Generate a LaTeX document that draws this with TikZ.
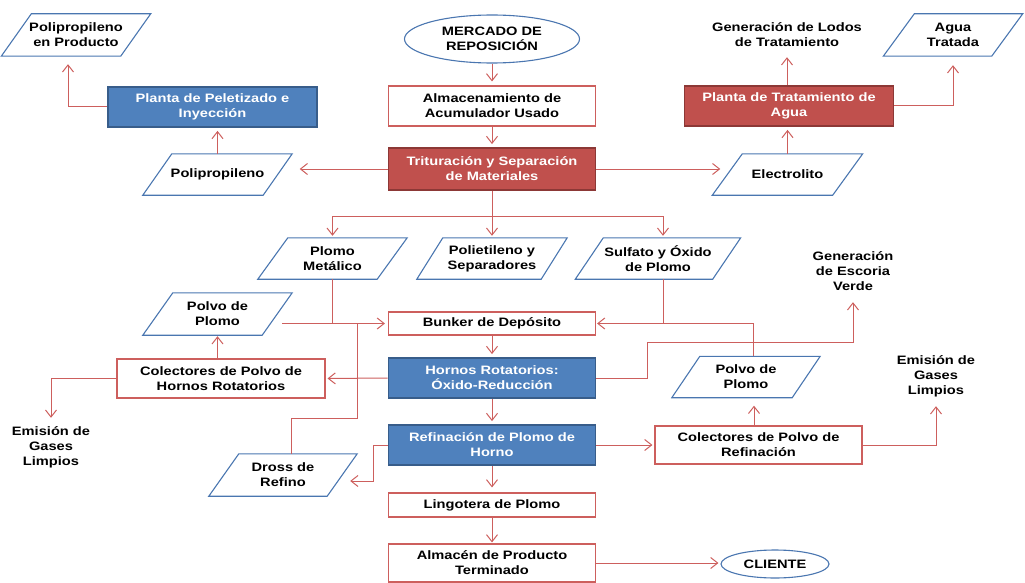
\documentclass[tikz,border=0pt]{standalone}
\usepackage{fontspec}
\newfontfamily\labfam{Liberation Sans}[FakeStretch=1.2]
\usetikzlibrary{arrows.meta,shapes.geometric}
\definecolor{linkred}{RGB}{205,95,93}
\definecolor{boxred}{RGB}{192,80,77}
\definecolor{boxredD}{RGB}{140,56,54}
\definecolor{boxblue}{RGB}{79,129,189}
\definecolor{boxblueD}{RGB}{56,93,138}
\definecolor{dataline}{RGB}{74,118,176}
\newcommand\labfont{\labfam\bfseries\fontsize{12.2}{15}\selectfont}
% data (input/output) symbol: slanted outline around a named node
\newcommand\slantbox[2]{%
  \draw[dataline,line width=1.1pt,line join=miter]
    ([xshift=#2/2]#1.north west) -- ([xshift=#2/2]#1.north east)
    -- ([xshift=-#2/2]#1.south east) -- ([xshift=-#2/2]#1.south west) -- cycle;}
\begin{document}
\begin{tikzpicture}[x=1pt,y=-1pt,
  every node/.style={font=\labfont,align=center,inner sep=0pt},
  procbox/.style={rectangle,draw=linkred,fill=white,line width=1.1pt,minimum width=207,minimum height=40},
  bluebox/.style={procbox,draw=boxblueD,fill=boxblue,text=white,line width=1.8pt},
  redbox/.style={procbox,draw=boxredD,fill=boxred,text=white,line width=1.8pt},
  databox/.style={rectangle,minimum height=41,minimum width=#1},
  terminal/.style={ellipse,draw=dataline,fill=white,line width=1.1pt},
  outtext/.style={minimum height=#1},
  flow/.style={draw=linkred,line width=1pt,-{Straight Barb[length=7pt,width=11pt]}},
  link/.style={draw=linkred,line width=1pt}]
\useasboundingbox (0,0) rectangle (1025,583);

% ---- top section
\node[terminal,minimum width=175,minimum height=48] (merc) at (492,39) {MERCADO DE\\REPOSICIÓN};
\node[procbox] (alm) at (492,106) {Almacenamiento de\\Acumulador Usado};
\node[redbox,minimum height=42] (trit) at (492,169) {Trituración y Separación\\de Materiales};
\node[databox=120] (poli) at (217.5,174.5) {Polipropileno};
\node[databox=120] (elec) at (787.5,174.5) {Electrolito};
\node[bluebox,minimum width=209] (pelet) at (212.5,107) {Planta de Peletizado e\\Inyección};
\node[redbox,minimum width=209] (trat) at (789,106) {Planta de Tratamiento de\\Agua};
\node[databox=119,minimum height=42] (pprod) at (76,35) {Polipropileno\\en Producto};
\node[outtext=44] (lodos) at (787,35) {Generación de Lodos\\de Tratamiento};
\node[databox=108,minimum height=42] (agua) at (953,35) {Agua\\Tratada};

% ---- separated materials
\node[databox=119] (pmet) at (332.5,258.5) {Plomo\\Metálico};
\node[databox=124] (polie) at (492,258.5) {Polietileno y\\Separadores};
\node[databox=137] (sulf) at (658,258.5) {Sulfato y Óxido\\de Plomo};

% ---- smelting and refining
\node[procbox,minimum height=23] (bunk) at (492,323.5) {Bunker de Depósito};
\node[databox=119,minimum height=42] (polvoL) at (217.5,314) {Polvo de\\Plomo};
\node[bluebox] (hornos) at (492,378) {Hornos Rotatorios:\\Óxido-Reducción};
\node[procbox,minimum width=208,minimum height=39] (colH) at (221,378.5) {Colectores de Polvo de\\Hornos Rotatorios};
\node[outtext=58] (emisL) at (51,447) {Emisión de\\Gases\\Limpios};
\node[databox=120] (polvoR) at (746,377) {Polvo de\\Plomo};
\node[outtext=62] (escoria) at (853,271) {Generación\\de Escoria\\Verde};
\node[outtext=60] (emisR) at (936,376) {Emisión de\\Gases\\Limpios};
\node[bluebox] (refin) at (492,445) {Refinación de Plomo de\\Horno};
\node[databox=118,minimum height=42] (dross) at (283,475) {Dross de\\Refino};
\node[procbox,minimum height=38] (colR) at (758.5,445) {Colectores de Polvo de\\Refinación};
\node[procbox,minimum height=24] (ling) at (492,505) {Lingotera de Plomo};
\node[procbox,minimum height=38] (almP) at (492,563) {Almacén de Producto\\Terminado};
\node[terminal,minimum width=108,minimum height=28] (cli) at (775,564) {CLIENTE};

\slantbox{pprod}{30}
\slantbox{poli}{29}
\slantbox{elec}{30}
\slantbox{agua}{31}
\slantbox{pmet}{30}
\slantbox{polie}{26}
\slantbox{sulf}{28}
\slantbox{polvoL}{30}
\slantbox{polvoR}{28}
\slantbox{dross}{30}

% ---- connectors, top
\draw[flow,shorten >=4] (merc.south) -- (alm.north);
\draw[flow,shorten >=3] (alm.south) -- (trit.north);
\draw[flow,shorten >=22] (trit.west) -- (trit.west -| poli.east);
\draw[flow,shorten >=7] (trit.east) -- (trit.east -| elec.west);
\draw[flow,shorten >=3] (poli.north) -- (poli.north |- pelet.south);
\draw[flow,shorten >=8] (pelet.west) -| ([xshift=-8]pprod.south);
\draw[flow,shorten >=3] (elec.north) -- (elec.north |- trat.south);
\draw[flow] (trat.north -| lodos.south) -- (lodos.south);
\draw[flow,shorten >=9] (trat.east) -| (agua.south);

% ---- crusher outputs
\coordinate (split) at (492,216);
\draw[link] (trit.south) -- (split);
\draw[flow,shorten >=2] (split) -| (pmet.north);
\draw[flow,shorten >=2] (split) -- (polie.north);
\draw[flow,shorten >=2] (split) -| ([xshift=5]sulf.north);

% ---- bunker feeds
\draw[flow,shorten >=3] ([xshift=5]polvoL.east |- bunk.west) -- (bunk.west);
\draw[link] (pmet.south) -- (pmet.south |- bunk.west);
\coordinate (drossbend) at (357,418);
\draw[link] ([xshift=8]dross.north) |- (drossbend) -- (drossbend |- bunk.west);
\draw[link] ([xshift=5]sulf.south) -- ([xshift=5]sulf.south |- bunk.east);
\draw[flow,shorten >=1] ([xshift=7]polvoR.north) |- (bunk.east);

% ---- furnaces
\draw[flow,shorten >=3] (bunk.south) -- (hornos.north);
\coordinate (slagbend) at (647,342);
\draw[flow] (hornos.east) -| (slagbend) -| (escoria.south);
\draw[flow,shorten >=2] (hornos.west) -- (colH.east);
\draw[flow,shorten >=1] (polvoL.south |- colH.north) -- (polvoL.south);
\draw[flow] (colH.west) -| (emisL.north);

% ---- refining and product
\draw[flow,shorten >=3] (hornos.south) -- (refin.north);
\coordinate (refbend) at (373,481);
\draw[flow,shorten >=8] (refin.west) -| (refbend) -- (refbend -| dross.east);
\draw[flow,shorten >=2] (refin.east) -- (colR.west);
\draw[flow,shorten >=8] ([xshift=-4.5]colR.north) -- ([xshift=-4.5]colR.north |- polvoR.south);
\draw[flow] (colR.east) -| (emisR.south);
\draw[flow,shorten >=5] (refin.south) -- (ling.north);
\draw[flow,shorten >=1] (ling.south) -- (almP.north);
\draw[flow,shorten >=2] (almP.east) -- (almP.east -| cli.west);
\end{tikzpicture}
\end{document}
